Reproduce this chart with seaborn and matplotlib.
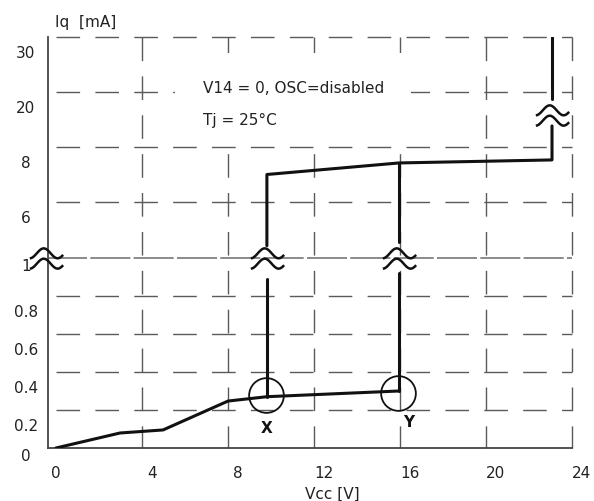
import numpy as np
import pandas as pd
import matplotlib
matplotlib.use('Agg')
import matplotlib.pyplot as plt
import matplotlib.transforms as mtransforms
from matplotlib.patches import Rectangle
from matplotlib.path import Path
import seaborn as sns

# datos (Vcc en V, Iq en mA)
low_vcc = [0, 2.98, 4.98, 8.0, 9.81, 15.95]
low_iq = [0, 0.079, 0.095, 0.247, 0.27, 0.30]

x_low_vcc = [9.81, 9.81]
x_low_iq = [0.27, 0.89]
y_low_vcc = [15.95, 15.95]
y_low_iq = [0.30, 0.92]

high_vcc = [9.81, 9.81, 15.95, 23.07, 23.07]
high_iq = [2.1, 7.0, 7.42, 7.53, 12.6]
y_high_vcc = [15.95, 15.95]
y_high_iq = [2.4, 7.42]
top_vcc = [23.07, 23.07]
top_iq = [18.5, 30]

circle_vcc = [9.77, 15.9]
circle_iq = [0.279, 0.29]
point_names = ['X', 'Y']
name_vcc = [9.81, 16.4]
name_iq = [0.11, 0.137]

break_vcc = [-0.45, 9.81, 15.95, 23.07]
break_iq = [1, 1, 1, 15.0]

vcc_ticks = [0, 4, 8, 12, 16, 20, 24]
iq_ticks = [0, 0.2, 0.4, 0.6, 0.8, 1, 6, 8, 20, 30]
iq_labels = ['0', '0.2', '0.4', '0.6', '0.8', '1', '6', '8', '20', '30']

# eje y partido: tramo lineal 0-1 y pasos iguales arriba
scale_vals = [0, 1, 6, 8, 20, 30]
scale_pos = [0, 190, 246, 301, 356, 411]


def fwd(y):
    return np.interp(y, scale_vals, scale_pos)


def inv(p):
    return np.interp(p, scale_pos, scale_vals)


segs = [
    (low_vcc, low_iq), (x_low_vcc, x_low_iq), (y_low_vcc, y_low_iq),
    (high_vcc, high_iq), (y_high_vcc, y_high_iq), (top_vcc, top_iq),
]
df = pd.concat([pd.DataFrame({'vcc': v, 'iq': i, 'seg': n}) for n, (v, i) in enumerate(segs)],
               ignore_index=True)

sns.set_theme(style='white')
plt.rcParams['font.family'] = ['DejaVu Sans']

fig = plt.figure(figsize=(5.94, 5.02), dpi=100)
ax = fig.add_axes([48 / 594, 53 / 502, 524 / 594, 411 / 502])
ax.set_yscale('function', functions=(fwd, inv))

grid_col = '#5a5a5a'
dash = (0, (17, 11))
for v in vcc_ticks[1:]:
    ax.plot([v, v], [30, 0], color=grid_col, lw=1.0, ls=dash, clip_on=False, zorder=1)
for y in iq_ticks:
    if y in (0, 1):
        continue
    ax.plot([0, 24], [y, y], color=grid_col, lw=1.0, ls=dash, clip_on=False, zorder=1)
ax.plot([-0.4, 24], [1, 1], color='#777777', lw=1.2, ls=(0, (24, 2)), zorder=1)

sns.lineplot(data=df, x='vcc', y='iq', units='seg', estimator=None, sort=False,
             color='#111111', lw=2.2, ax=ax, zorder=3)

ax.plot(circle_vcc, circle_iq, 'o', ms=25, mfc='none', mec='#111111', mew=1.3, zorder=4)
for n, vx, vy in zip(point_names, name_vcc, name_iq):
    ax.text(vx, vy, n, ha='center', va='center', fontsize=11, fontweight='bold', color='#111111')

# simbolo de corte (dos ondas)
t = np.linspace(0, 1, 25)
wx = 2 * t - 1
wy = -0.3 * np.cos(2.4 * np.pi * t)
verts = np.concatenate([np.column_stack([wx, wy + 0.31]), np.column_stack([wx, wy - 0.31])])
codes = ([Path.MOVETO] + [Path.LINETO] * 24) * 2
brk = Path(verts, codes)
ax.plot(break_vcc, break_iq, ls='none', marker=brk, ms=24, mfc='none', mec='#111111',
        mew=1.8, zorder=5, clip_on=False)

# fondo blanco detras de las condiciones de medida
ax.add_patch(Rectangle((0.242, 0.74), 0.45, 0.222, transform=ax.transAxes,
                       fc='white', ec='none', zorder=2))
ax.text(6.84, 20.9, 'V14 = 0, OSC=disabled', ha='left', va='center', fontsize=11,
        color='#222222', zorder=2.5)
ax.text(6.84, 14.1, 'Tj = 25°C', ha='left', va='center', fontsize=11,
        color='#222222', zorder=2.5)

ax.set_xlim(-0.37, 24)
ax.set_ylim(0, 30)
ax.set_xticks(vcc_ticks)
ax.set_xticklabels([str(v) for v in vcc_ticks])
ax.set_yticks(iq_ticks)
ax.set_yticklabels(iq_labels)
ax.minorticks_off()
ax.tick_params(axis='x', length=0, pad=12, labelsize=11, labelcolor='#222222')
ax.tick_params(axis='y', length=0, pad=16, labelsize=11, labelcolor='#222222')
for lab in ax.get_yticklabels():
    lab.set_horizontalalignment('center')
    dy = -4.3 if lab.get_text() in ('0', '1') else -10
    lab.set_transform(lab.get_transform() + mtransforms.ScaledTranslation(0, dy / 72, fig.dpi_scale_trans))
for lab in ax.get_xticklabels()[1:]:
    lab.set_transform(lab.get_transform() + mtransforms.ScaledTranslation(7 / 72, 0, fig.dpi_scale_trans))

ax.set_xlabel('Vcc [V]', fontsize=11, color='#222222')
ax.xaxis.set_label_coords(0.542, -0.092)
ax.set_ylabel('')
fig.text(55 / 594, 1 - 23 / 502, 'Iq  [mA]', ha='left', va='center', fontsize=11, color='#222222')

for s in ['top', 'right']:
    ax.spines[s].set_visible(False)
for s in ['left', 'bottom']:
    ax.spines[s].set_color('#444444')
    ax.spines[s].set_linewidth(1.3)

fig.savefig('out.png', dpi=100)
